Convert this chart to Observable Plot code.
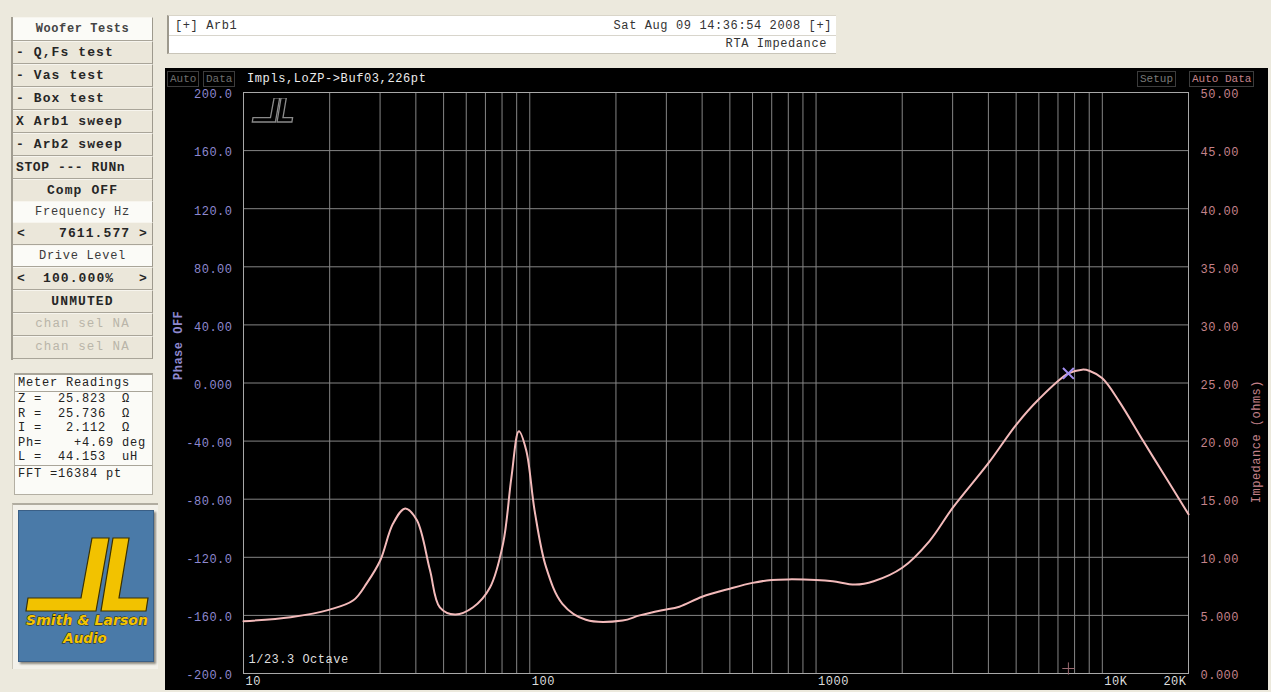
<!DOCTYPE html>
<html><head><meta charset="utf-8">
<script src="https://cdn.jsdelivr.net/npm/d3@7"></script>
<script src="https://cdn.jsdelivr.net/npm/@observablehq/plot@0.6"></script>
<style>
html,body{margin:0;padding:0;background:#ece9dd;width:1271px;height:692px;overflow:hidden;position:relative;font-family:"Liberation Mono","DejaVu Sans Mono",monospace;}
.abs{position:absolute;box-sizing:border-box;}
.btn{position:absolute;box-sizing:border-box;left:13px;width:140px;height:23px;background:#ebe7da;border-bottom:1px solid #a9a599;border-right:1px solid #9d998d;border-top:1px solid #f7f5ee;font-weight:bold;font-size:13px;letter-spacing:1.1px;line-height:21px;padding-left:3px;color:#262626;white-space:pre;}
.lbl{background:#fbfbf7;text-align:center;font-weight:normal;color:#3a3a3a;padding-left:0;font-size:12px;letter-spacing:0.7px;}
.ctr{text-align:center;padding-left:0}
.dis{color:#b9b5a9;font-weight:normal;text-align:center;padding-left:0;font-size:12.5px}
.meter div{height:14.5px;line-height:14.5px;font-size:12px;letter-spacing:0.8px;white-space:pre;color:#222;padding-left:3px}
#panel{position:absolute;left:165px;top:68px;width:1103px;height:622px;background:#000;}
#panel svg text{font-family:"Liberation Mono","DejaVu Sans Mono",monospace;font-size:12px;letter-spacing:0.5px;}
.tb{position:absolute;top:3px;height:16px;line-height:14px;font-size:11px;border:1px solid #3c3c3c;padding:0 2px;color:#6e6e6e;box-sizing:border-box;white-space:pre}
</style></head>
<body>
<!-- left control column -->
<div class="abs" style="left:11px;top:17px;width:2px;height:343px;background:#a19d91"></div>
<div class="btn lbl" style="top:17px;height:24px;line-height:22px;color:#444;font-weight:bold;letter-spacing:0.6px">Woofer Tests</div>
<div class="btn" style="top:41px">- Q,Fs test</div>
<div class="btn" style="top:64px">- Vas test</div>
<div class="btn" style="top:87px">- Box test</div>
<div class="btn" style="top:110px">X Arb1 sweep</div>
<div class="btn" style="top:133px">- Arb2 sweep</div>
<div class="btn" style="top:156px;letter-spacing:0.6px">STOP --- RUNn</div>
<div class="btn ctr" style="top:179px">Comp OFF</div>
<div class="btn lbl" style="top:201px;height:22px">Frequency Hz</div>
<div class="btn" style="top:222px"><span style="position:absolute;left:4px">&lt;</span><span style="position:absolute;left:46px">7611.577</span><span style="position:absolute;right:4px">&gt;</span></div>
<div class="btn lbl" style="top:245px;height:22px">Drive Level</div>
<div class="btn" style="top:267px"><span style="position:absolute;left:4px">&lt;</span><span style="position:absolute;left:30px">100.000%</span><span style="position:absolute;right:4px">&gt;</span></div>
<div class="btn ctr" style="top:290px">UNMUTED</div>
<div class="btn dis" style="top:313px">chan sel NA</div>
<div class="btn dis" style="top:336px">chan sel NA</div>

<div class="abs meter" style="left:14px;top:373px;width:139px;height:122px;background:#fbfbf7;border:1px solid #b3afa3;border-top:2px solid #a9a599;">
  <div style="border-bottom:1px solid #a9a599;height:16px;line-height:16px">Meter Readings</div>
  <div>Z =  25.823  Ω</div>
  <div>R =  25.736  Ω</div>
  <div>I =   2.112  Ω</div>
  <div>Ph=    +4.69 deg</div>
  <div>L =  44.153  uH</div>
  <div style="border-top:1px solid #a9a599;height:17px;line-height:17px">FFT =16384 pt</div>
</div>

<div class="abs" style="left:12px;top:503px;width:146px;height:166px;background:#f3f1ea;border-top:2px solid #b0aca0;border-left:1px solid #c9c5b9"></div>
<div class="abs" style="left:18px;top:510px;width:136px;height:152px;background:#4a7aa8;border:1px solid #3a5f86;box-shadow:2px 2px 2px #8d8a80">
  <svg width="136" height="152" style="position:absolute;left:0;top:0">
    <g fill="#f2c200" stroke="#3a3000" stroke-width="1.2">
      <polygon points="9,87 62,87 73,27 90,27 77,100 7,100"/>
      <polygon points="94,27 110,27 100,87 129,87 127,100 82,100"/>
    </g>
    <g font-family="DejaVu Sans" font-weight="bold" fill="#f4c400" stroke="#2a2200" stroke-width="0.8" paint-order="stroke" text-anchor="middle">
      <text x="68" y="114" font-size="13.5" font-style="italic" textLength="122" lengthAdjust="spacingAndGlyphs">Smith &amp; Larson</text>
      <text x="66" y="132" font-size="13.5" font-style="italic">Audio</text>
    </g>
  </svg>
</div>

<!-- header box -->
<div class="abs" style="left:167px;top:15px;width:669px;height:39px;background:#fff;border-left:2px solid #9d998d;border-bottom:1px solid #c9c5b9;border-top:1px solid #d9d5c9;font-size:12px;letter-spacing:0.6px;color:#333;">
  <div style="position:absolute;left:6px;top:3px">[+] Arb1</div>
  <div style="position:absolute;right:4px;top:3px">Sat Aug 09 14:36:54 2008 [+]</div>
  <div style="position:absolute;left:0;right:0;top:19px;border-top:1px solid #d8d5cc"></div>
  <div style="position:absolute;right:9px;top:21px">RTA Impedance</div>
</div>

<div id="panel"></div>
<script>
// ---- data ----
const freqHz = [10, 14.6, 20, 24.2, 27, 30, 33.3, 36.7, 40.3, 44.8, 48.5, 54.8, 63.4, 72.6, 80.7, 86.3, 91.6, 97.2, 104, 114, 130, 157, 211, 242, 290, 333, 400, 500, 600, 700, 800, 1000, 1144, 1370, 1590, 2000, 2490, 3000, 4000, 5000, 6000, 7611.577, 8500, 9000, 10000, 11460, 13900, 16440, 20000];
const impedanceOhm = [4.5, 4.85, 5.5, 6.3, 7.8, 9.7, 12.9, 14.2, 13.2, 8.9, 5.7, 5.08, 5.7, 7.4, 11.2, 16.9, 20.85, 19.2, 14.0, 9.15, 6.0, 4.62, 4.56, 5.0, 5.45, 5.75, 6.6, 7.3, 7.8, 8.05, 8.1, 8.05, 7.94, 7.65, 7.94, 9.1, 11.4, 14.25, 18.1, 21.4, 23.6, 25.823, 26.15, 26.06, 25.4, 23.4, 20.0, 17.1, 13.7];
const impTicks = [0, 5, 10, 15, 20, 25, 30, 35, 40, 45, 50];
const impTickLabels = ["0.000","5.000","10.00","15.00","20.00","25.00","30.00","35.00","40.00","45.00","50.00"];
const phaseTickLabels = ["-200.0","-160.0","-120.0","-80.00","-40.00","0.000","40.00","80.00","120.0","160.0","200.0"];
const xGridHz = [10,20,30,40,50,60,70,80,90,100,200,300,400,500,600,700,800,900,1000,2000,3000,4000,5000,6000,7000,8000,9000,10000,20000];
const xTickHz = [10, 100, 1000, 10000];
const xTickLabels = ["10", "100", "1000", "10K"];
const xEndTickHz = [20000];
const xEndTickLabels = ["20K"];
const cursorHz = [7611.577];
const cursorOhm = [25.823];

const data = freqHz.map((f, i) => ({f, z: impedanceOhm[i]}));
const grid = "#858585";
const phaseColor = "#8e88cf";
const impColor = "#c4828a";

const chart = Plot.plot({
  width: 1103, height: 622,
  marginLeft: 78, marginRight: 80, marginTop: 24, marginBottom: 17,
  style: {background: "black", color: "#ddd"},
  x: {type: "log", domain: [10, 20000], axis: null},
  y: {domain: [0, 50], axis: null},
  marks: [
    Plot.ruleX(xGridHz, {x: d => d, stroke: grid, strokeWidth: 1}),
    Plot.ruleY(impTicks, {y: d => d, stroke: grid, strokeWidth: 1}),
    Plot.frame({stroke: "#a8a8a8"}),
    Plot.line(data, {x: "f", y: "z", curve: "catmull-rom", stroke: "#f3baba", strokeWidth: 2}),
    Plot.dot(cursorHz, {x: d => d, y: (d, i) => cursorOhm[i], symbol: "times", r: 5, stroke: "#a48ff0", strokeWidth: 2}),
    Plot.dot(cursorHz, {x: d => d, frameAnchor: "bottom", dy: -5, symbol: "plus", r: 4, stroke: "#9a6a70", strokeWidth: 1}),
    Plot.axisY({anchor: "right", ticks: impTicks, tickSize: 0, tickPadding: 12, textAnchor: "start", dy: 2,
      tickFormat: d => impTickLabels[impTicks.indexOf(d)], fill: impColor, label: null}),
    Plot.axisY({anchor: "left", ticks: impTicks, tickSize: 0, tickPadding: 11, dy: 2,
      tickFormat: d => phaseTickLabels[impTicks.indexOf(d)], fill: phaseColor, label: null}),
    Plot.text(xTickHz, {x: d => d, text: (d, i) => xTickLabels[i], frameAnchor: "bottom", dy: 11, dx: 2, textAnchor: "start", fill: "#dcdcdc"}),
    Plot.text(xEndTickHz, {x: d => d, text: (d, i) => xEndTickLabels[i], frameAnchor: "bottom", dy: 11, dx: -2, textAnchor: "end", fill: "#dcdcdc"}),
    Plot.text(["Phase OFF"], {text: d => d, frameAnchor: "left", dx: -65, dy: -3, rotate: -90, fill: phaseColor, fontWeight: "bold"}),
    Plot.text(["Impedance (ohms)"], {text: d => d, frameAnchor: "right", dx: 68, dy: -3, rotate: -90, fill: impColor}),
    Plot.text(["1/23.3 Octave"], {text: d => d, frameAnchor: "bottom-left", dx: 5, dy: -11, textAnchor: "start", fill: "#dedede"})
  ]
});
const panel = document.getElementById("panel");
panel.appendChild(chart);

// top bar of the black panel
const bar = [
  {t: "Auto", l: 2, c: "#6e6e6e"}, {t: "Data", l: 38, c: "#6e6e6e"},
  {t: "Setup", l: 972, c: "#7a7a7a"},
  {t: "Auto Data", l: 1024, c: "#c4828a"}
];
for (const b of bar) {
  const d = document.createElement("div");
  d.className = "tb"; d.style.left = b.l + "px"; d.style.color = b.c; d.textContent = b.t;
  panel.appendChild(d);
}
const ttl = document.createElement("div");
ttl.style.cssText = "position:absolute;left:82px;top:4px;color:#ececec;font-size:12px;letter-spacing:0.6px;white-space:pre";
ttl.textContent = "Impls,LoZP->Buf03,226pt";
panel.appendChild(ttl);

// faint SL outline logo in the plot corner
const ns = "http://www.w3.org/2000/svg";
const lg = document.createElementNS(ns, "svg");
lg.setAttribute("width", "50"); lg.setAttribute("height", "30");
lg.style.cssText = "position:absolute;left:85px;top:30px";
lg.innerHTML = '<g transform="translate(0,-9) scale(0.33)" fill="none" stroke="#8a8a8a" stroke-width="4"><polygon points="9,87 62,87 73,27 90,27 77,100 7,100"/><polygon points="94,27 110,27 100,87 129,87 127,100 82,100"/></g>';
panel.appendChild(lg);
</script>
</body></html>
